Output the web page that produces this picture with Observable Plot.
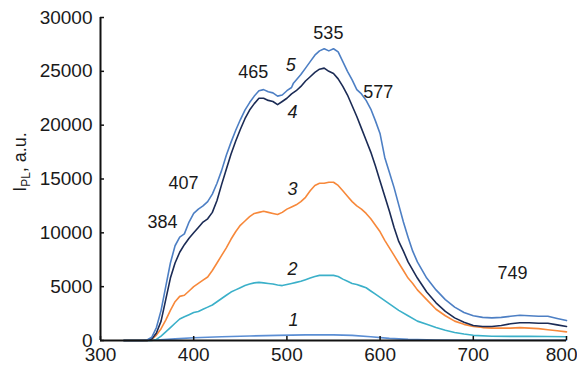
<!DOCTYPE html>
<html><head><meta charset="utf-8">
<script src="https://cdn.jsdelivr.net/npm/d3@7"></script>
<script src="https://cdn.jsdelivr.net/npm/@observablehq/plot@0.6"></script>
<style>
body{margin:0;background:#fff;}
#chart{position:relative;width:577px;height:365px;}
#chart svg{overflow:visible}
</style>
</head><body><div id="chart"></div>
<script>
// ---- data ----
const wl5 = [325,345,350,355,360,365,370,375,380,385,390,395,400,405,410,415,420,425,430,435,440,445,450,455,460,465,470,475,480,485,490,495,500,505,507,510,515,520,525,530,535,540,545,550,555,560,565,570,575,580,585,590,595,600,605,610,615,620,625,630,635,640,650,660,670,680,690,700,710,720,730,740,750,760,770,780,790,800];
const i5  = [0,0,50,300,1200,2800,5000,7200,8800,9600,9900,11000,11800,12200,12500,12900,13600,14600,15800,17200,18400,19500,20500,21400,22100,22700,23200,23300,23100,23000,22700,22800,23200,23500,23900,24200,24700,25300,25900,26500,26900,27100,26900,27100,26800,25900,25000,24200,23300,22900,22300,21500,20400,19200,17000,15600,14200,12600,11000,9600,8300,7300,5800,4700,3800,3100,2600,2300,2150,2100,2150,2250,2350,2300,2250,2250,2050,1850];

const wl4 = [325,350,355,360,365,370,375,380,385,390,395,400,405,410,415,420,425,430,435,440,445,450,455,460,465,470,475,480,485,490,495,500,505,510,515,520,525,530,535,540,545,550,555,560,565,570,575,580,585,590,595,600,605,610,615,620,625,630,640,650,660,670,680,690,700,710,720,730,740,750,760,770,780,790,800];
const i4  = [0,0,150,700,1800,3800,5800,7200,8200,8900,9500,10000,10500,11000,11300,11900,13000,14500,15900,17300,18500,19600,20600,21400,22000,22500,22500,22300,22200,21900,22200,22500,22900,23200,23600,24100,24500,24900,25200,25300,25000,24800,24300,23600,22800,21800,20800,19700,18600,17500,16200,14800,13400,12000,10500,9200,8300,7300,5800,4500,3500,2700,2100,1700,1400,1300,1300,1400,1550,1650,1650,1600,1600,1450,1300];

const wl3 = [325,350,355,360,365,370,375,380,385,390,395,400,405,410,415,420,425,430,435,440,445,450,455,460,465,470,475,480,485,490,495,500,505,510,515,520,525,530,535,540,545,550,555,560,565,570,575,580,585,590,595,600,605,610,615,620,625,630,635,640,650,660,670,680,690,700,710,720,730,740,750,760,770,780,790,800];
const i3  = [0,0,100,500,1100,1900,2800,3600,4100,4200,4600,5000,5300,5600,5900,6500,7200,7900,8600,9400,10100,10700,11100,11500,11800,11900,12000,11900,11800,11700,11900,12200,12400,12600,12900,13300,13900,14400,14600,14600,14700,14700,14400,13900,13400,12900,12500,12200,11800,11300,10700,10100,9300,8600,7900,7200,6500,5800,5300,4700,3800,2900,2300,1800,1500,1300,1200,1150,1150,1150,1200,1150,1100,1000,900,800];

const wl2 = [325,355,360,365,370,375,380,385,390,395,400,405,410,415,420,425,430,435,440,445,450,455,460,465,470,475,480,485,490,495,500,505,510,515,520,525,530,535,540,545,550,555,560,565,570,575,580,585,590,595,600,610,620,630,640,650,660,670,680,690,700,720,740,760,780,800];
const i2  = [0,0,100,400,800,1200,1600,2000,2200,2400,2600,2700,2900,3100,3300,3600,3900,4200,4500,4700,4900,5100,5250,5350,5400,5350,5300,5250,5150,5100,5200,5300,5400,5500,5650,5800,5950,6050,6050,6050,6050,5950,5700,5500,5300,5200,5050,4900,4600,4300,4000,3400,2800,2300,1800,1500,1200,950,750,600,480,400,380,380,370,350];

const wl1 = [325,350,360,380,400,430,460,490,520,550,570,590,610,630,660,700,800];
const i1  = [0,0,50,150,250,350,420,480,520,520,480,350,200,100,50,30,20];

const seriesNames  = ["1","2","3","4","5"];
const seriesColors = ["#5b8ed4","#3bb0c9","#f7883a","#1b2b55","#4d7fc4"];

const xTicks = [300,400,500,600,700,800];
const yTicks = [0,5000,10000,15000,20000,25000,30000];

const peakLabels = ["384","407","465","535","577","749"];
const peakX      = [366.5,389,464,544.5,598,742];
const peakY      = [10960,14590,24900,28520,23040,6220];

const curveLabels = ["1","2","3","4","5"];
const curveLabX   = [507,506,506,506,504];
const curveLabY   = [1860,6600,14030,21180,25550];

// ---- build tables ----
const sets = [[wl1,i1],[wl2,i2],[wl3,i3],[wl4,i4],[wl5,i5]];
const rows = [];
sets.forEach(([w,v],k)=>w.forEach((x,j)=>rows.push({wl:x, I:v[j], s:seriesNames[k]})));
const peaks = peakLabels.map((t,j)=>({t, x:peakX[j], y:peakY[j]}));
const clabs = curveLabels.map((t,j)=>({t, x:curveLabX[j], y:curveLabY[j]}));
const lastX = xTicks[xTicks.length-1];
const fmt = d3.format("d");

const plot = Plot.plot({
  width: 577, height: 365,
  marginLeft: 100, marginRight: 11, marginTop: 17, marginBottom: 25,
  style: {fontFamily: "'Liberation Sans', Arial, sans-serif", background: "#fff", color: "#1a1a1a"},
  x: {domain: [300, 800]},
  y: {domain: [0, 30000]},
  color: {domain: seriesNames, range: seriesColors},
  marks: [
    Plot.line(rows, {x: "wl", y: "I", z: "s", stroke: "s", strokeWidth: 1.6, curve: "linear"}),
    Plot.ruleX([300], {stroke: "#111", strokeWidth: 2}),
    Plot.ruleY([0], {stroke: "#111", strokeWidth: 2}),
    Plot.axisX({ticks: xTicks, tickSize: -4, tickPadding: 11, fontSize: 19, tickFormat: d => d === lastX ? "" : fmt(d), label: null, stroke: "#111", strokeWidth: 1.5}),
    Plot.text([lastX], {x: d => d, frameAnchor: "bottom", lineAnchor: "top", dy: 7, dx: 11, textAnchor: "end", text: d => fmt(d), fontSize: 19, fill: "#1a1a1a"}),
    Plot.axisY({ticks: yTicks, tickSize: -4, tickPadding: 12, fontSize: 19, tickFormat: fmt, label: null, stroke: "#111", strokeWidth: 1.5}),
    Plot.text(peaks, {x: "x", y: "y", text: "t", fontSize: 18, fill: "#1a1a1a"}),
    Plot.text(clabs, {x: "x", y: "y", text: "t", fontSize: 18, fontStyle: "italic", fill: "#1a1a1a"})
  ]
});
document.getElementById("chart").appendChild(plot);

// y-axis title with subscript
const svg = d3.select(plot);
const t = svg.append("text")
  .attr("transform", "translate(26,162) rotate(-90)")
  .attr("text-anchor", "middle")
  .attr("font-size", 18)
  .attr("fill", "#1a1a1a");
t.append("tspan").text("I");
t.append("tspan").attr("font-size", 12).attr("dy", 4).text("PL");
t.append("tspan").attr("dy", -4).text(", a.u.");
</script>
</body></html>
